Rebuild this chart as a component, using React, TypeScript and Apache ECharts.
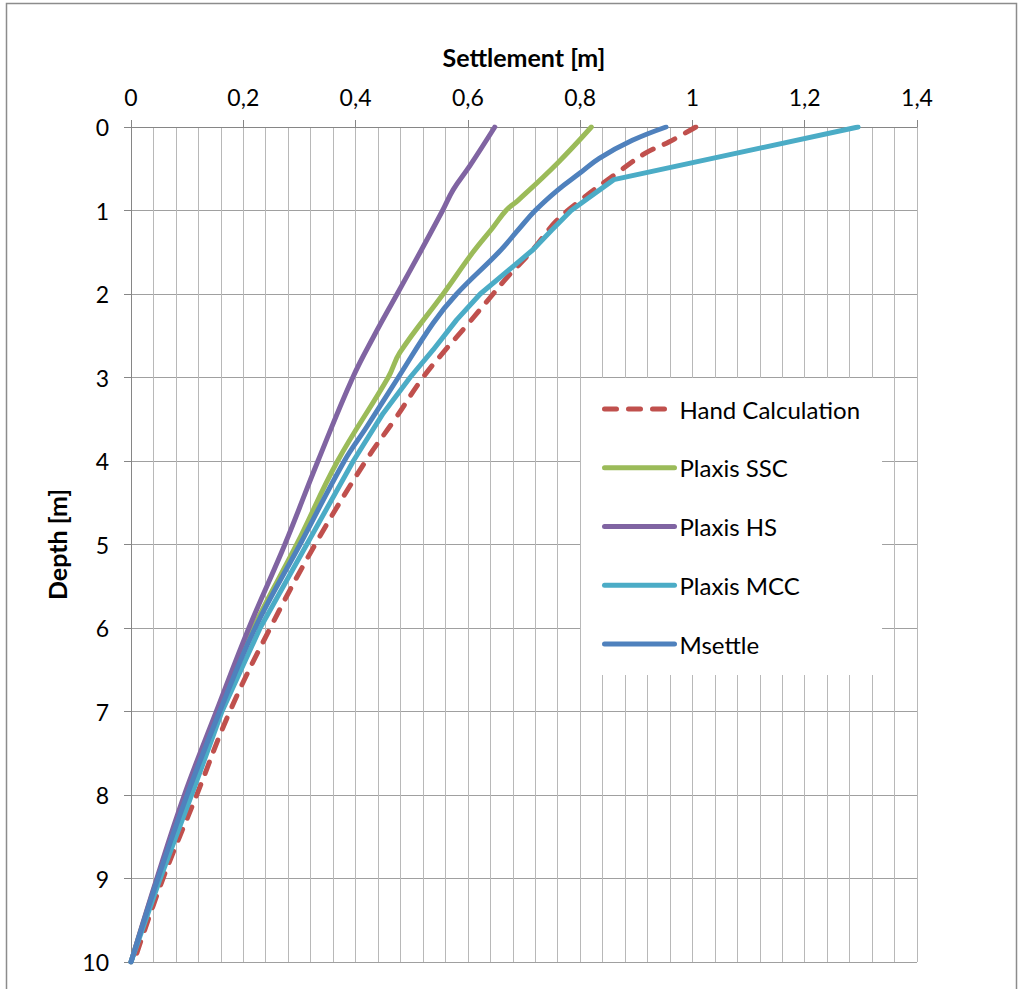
import React, { useEffect, useRef } from "react";
import * as echarts from "echarts";

// ---------- data ----------
const seriesNames = ["Hand Calculation", "Plaxis SSC", "Plaxis HS", "Plaxis MCC", "Msettle"];

const handDepth = [0, 0.18, 0.31, 0.56, 0.88, 1.13, 1.5, 1.8, 2, 2.4, 2.67, 3, 3.5, 4, 5, 6, 7, 8, 9, 10];
const handSettlement = [1.006, 0.958, 0.917, 0.864, 0.8, 0.757, 0.712, 0.67, 0.645, 0.595, 0.56, 0.52, 0.47, 0.418, 0.328, 0.248, 0.176, 0.117, 0.057, 0.005];

const sscDepth = [0, 0.43, 0.875, 1, 1.2, 1.5, 2, 2.7, 3, 4, 5, 6, 7, 8, 9, 10];
const sscSettlement = [0.82, 0.76, 0.69, 0.668, 0.645, 0.609, 0.556, 0.479, 0.458, 0.368, 0.295, 0.218, 0.155, 0.098, 0.047, 0];

const hsDepth = [0, 0.46, 0.75, 1, 1.5, 2, 2.5, 3, 4, 5, 6, 7, 8, 9, 10];
const hsSettlement = [0.648, 0.604, 0.574, 0.555, 0.515, 0.474, 0.433, 0.395, 0.333, 0.274, 0.21, 0.152, 0.095, 0.046, 0];

const mccDepth = [0, 0.63, 1, 1.23, 1.47, 2, 2.31, 2.67, 3, 3.43, 4, 5, 6, 7, 8, 9, 10];
const mccSettlement = [1.295, 0.86, 0.784, 0.75, 0.716, 0.622, 0.58, 0.538, 0.497, 0.449, 0.396, 0.313, 0.23, 0.162, 0.108, 0.052, 0];

const msettleDepth = [0, 0.16, 0.375, 0.555, 0.755, 1, 1.23, 1.5, 2, 2.35, 3, 3.59, 4, 5, 6, 7, 8, 9, 10];
const msettleSettlement = [0.953, 0.893, 0.834, 0.799, 0.76, 0.72, 0.69, 0.655, 0.58, 0.538, 0.476, 0.42, 0.38, 0.301, 0.221, 0.158, 0.1, 0.048, 0];

const xTickLabels = ["0", "0,2", "0,4", "0,6", "0,8", "1", "1,2", "1,4"];
const yTickLabels = ["0", "1", "2", "3", "4", "5", "6", "7", "8", "9", "10"];

const colors = ["#C0504D", "#9BBB59", "#8064A2", "#4BACC6", "#4F81BD"];

const FONT = 'Lato, "Liberation Sans", sans-serif';

function pairs(xs: number[], ys: number[]) {
  return xs.map((x, i) => [x, ys[i]]);
}

export default function App() {
  const ref = useRef<HTMLDivElement>(null);

  useEffect(() => {
    if (!ref.current) return;
    const chart = echarts.init(ref.current, null, { renderer: "svg" });

    const dataSets = [
      pairs(handSettlement, handDepth),
      pairs(sscSettlement, sscDepth),
      pairs(hsSettlement, hsDepth),
      pairs(mccSettlement, mccDepth),
      pairs(msettleSettlement, msettleDepth),
    ];

    const option: any = {
      animation: false,
      backgroundColor: "#fff",
      textStyle: { fontFamily: FONT, color: "#000" },
      graphic: [
        {
          type: "rect",
          silent: true,
          z: -10,
          shape: { x: 6.5, y: 3.5, width: 1010, height: 1010 },
          style: { fill: "none", stroke: "#8c8c8c", lineWidth: 1.5 },
        },
      ],
      grid: { left: 131, top: 127, width: 786, height: 835, containLabel: false },
      legend: {
        orient: "vertical",
        left: 581,
        top: 378,
        padding: [19, 22, 19, 21],
        backgroundColor: "#fff",
        itemWidth: 70,
        itemHeight: 24,
        itemGap: 34.75,
        data: seriesNames,
        itemStyle: { opacity: 0 },
        lineStyle: { width: 5, cap: "round" },
        textStyle: { fontFamily: FONT, fontSize: 24, color: "#000" },
        z: 10,
      },
      xAxis: {
        type: "value",
        position: "top",
        min: 0,
        max: 1.4,
        interval: 0.2,
        name: "Settlement [m]",
        nameLocation: "middle",
        nameGap: 58,
        nameTextStyle: { fontFamily: FONT, fontSize: 25, fontWeight: "bold", color: "#000" },
        axisLine: { show: true, lineStyle: { color: "#868686", width: 1 } },
        axisTick: { show: true, length: 7, lineStyle: { color: "#868686" } },
        axisLabel: {
          margin: 19,
          fontFamily: FONT,
          fontSize: 23,
          color: "#000",
          formatter: (v: number) => xTickLabels[Math.round(v / 0.2)] ?? "",
        },
        splitLine: { show: true, lineStyle: { color: "#b8b8b8", width: 1 } },
        minorTick: { show: false, splitNumber: 5 },
        minorSplitLine: { show: true, lineStyle: { color: "#b8b8b8", width: 1 } },
      },
      yAxis: {
        type: "value",
        inverse: true,
        min: 0,
        max: 10,
        interval: 1,
        name: "Depth [m]",
        nameLocation: "middle",
        nameGap: 62,
        nameRotate: 90,
        nameTextStyle: { fontFamily: FONT, fontSize: 25, fontWeight: "bold", color: "#000" },
        axisLine: { show: true, lineStyle: { color: "#868686", width: 1 } },
        axisTick: { show: true, length: 7, lineStyle: { color: "#868686" } },
        axisLabel: {
          margin: 22,
          fontFamily: FONT,
          fontSize: 23,
          color: "#000",
          formatter: (v: number) => yTickLabels[Math.round(v)] ?? "",
        },
        splitLine: { show: true, lineStyle: { color: "#a0a0a0", width: 1 } },
      },
      series: seriesNames.map((name, i) => ({
        name,
        type: "line",
        data: dataSets[i],
        showSymbol: false,
        symbol: "none",
        smooth: i === 3 ? false : 0.4,
        color: colors[i],
        lineStyle: {
          color: colors[i],
          width: 5,
          type: i === 0 ? [12, 12] : "solid",
          cap: "round",
          join: "round",
        },
        z: 2 + i,
      })),
    };

    chart.setOption(option);
    return () => chart.dispose();
  }, []);

  return (
    <div
      ref={ref}
      style={{ position: "absolute", left: 0, top: 0, width: 1019, height: 989, background: "#fff" }}
    />
  );
}
